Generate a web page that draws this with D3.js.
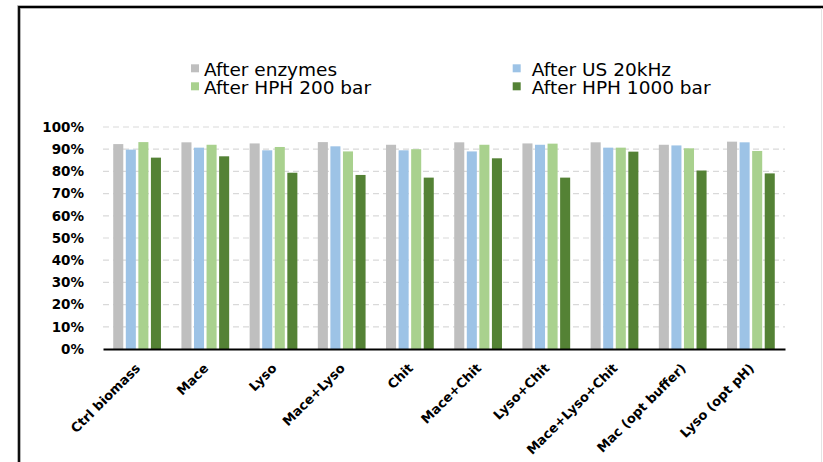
<!DOCTYPE html>
<html>
<head>
<meta charset="utf-8">
<script src="https://cdn.jsdelivr.net/npm/d3@7"></script>
<style>
  html, body { margin: 0; padding: 0; background: #ffffff; }
  svg { display: block; }
  text { font-family: "DejaVu Sans", sans-serif; }
</style>
</head>
<body>
<svg id="chart" width="823" height="462"></svg>
<script>
// Treatments along the x axis
const categories = [
  "Ctrl biomass", "Mace", "Lyso", "Mace+Lyso", "Chit",
  "Mace+Chit", "Lyso+Chit", "Mace+Lyso+Chit", "Mac (opt buffer)", "Lyso (opt pH)"
];

// Series names (legend order)
const seriesNames = ["After enzymes", "After US 20kHz", "After HPH 200 bar", "After HPH 1000 bar"];

// Values per series, one per treatment (fraction)
const afterEnzymes = [0.923, 0.931, 0.926, 0.932, 0.920, 0.931, 0.926, 0.931, 0.920, 0.934];
const afterUS20kHz = [0.898, 0.907, 0.895, 0.913, 0.895, 0.890, 0.920, 0.907, 0.917, 0.931];
const afterHPH200 = [0.932, 0.920, 0.910, 0.890, 0.900, 0.920, 0.925, 0.907, 0.904, 0.892];
const afterHPH1000 = [0.862, 0.868, 0.794, 0.784, 0.772, 0.859, 0.772, 0.889, 0.804, 0.791];

// Y tick values
const yTicks = [0, 0.1, 0.2, 0.3, 0.4, 0.5, 0.6, 0.7, 0.8, 0.9, 1.0];

const seriesValues = [afterEnzymes, afterUS20kHz, afterHPH200, afterHPH1000];
const colors = ["#bfbfbf", "#9dc3e6", "#a9d18e", "#548235"];

const svg = d3.select("#chart");

// Outer frame (left and top edges visible)
svg.append("path")
  .attr("d", "M19,462 L19,7 L823,7")
  .attr("fill", "none")
  .attr("stroke", "#9a9a9a")
  .attr("stroke-width", 3.5);
svg.append("path")
  .attr("d", "M19,462 L19,7 L823,7")
  .attr("fill", "none")
  .attr("stroke", "#000")
  .attr("stroke-width", 1.8);
svg.append("line")
  .attr("x1", 821.5).attr("x2", 821.5)
  .attr("y1", 8).attr("y2", 462)
  .attr("stroke", "#e4e4e4").attr("stroke-width", 1);

const plot = { left: 103, right: 785, top: 127, bottom: 349 };

const x = d3.scaleBand()
  .domain(categories)
  .range([plot.left, plot.right])
  .paddingInner(0.3)
  .paddingOuter(0.15);

const xSeries = d3.scaleBand()
  .domain(seriesNames)
  .range([0, x.bandwidth()])
  .paddingInner(0.2);

const y = d3.scaleLinear()
  .domain([0, 1])
  .range([plot.bottom, plot.top]);

// Dashed horizontal gridlines
svg.append("g")
  .selectAll("line")
  .data(yTicks.filter(d => d > 0))
  .join("line")
  .attr("x1", plot.left)
  .attr("x2", plot.right)
  .attr("y1", d => y(d))
  .attr("y2", d => y(d))
  .attr("stroke", "#d9d9d9")
  .attr("stroke-width", 1.2)
  .attr("stroke-dasharray", "6,4");

// Y axis labels
const yAxis = d3.axisLeft(y)
  .tickValues(yTicks)
  .tickFormat(d3.format(".0%"))
  .tickSize(0)
  .tickPadding(0);

const yG = svg.append("g")
  .attr("transform", `translate(84,0)`)
  .call(yAxis);
yG.select(".domain").remove();
yG.selectAll("text")
  .attr("font-family", "'DejaVu Sans', sans-serif")
  .attr("font-size", 13.5)
  .attr("font-weight", 700)
  .attr("fill", "#000");

// Bars
const groups = svg.append("g")
  .selectAll("g")
  .data(categories)
  .join("g")
  .attr("transform", d => `translate(${x(d)},0)`);

groups.selectAll("rect")
  .data((c, i) => seriesNames.map((s, k) => ({ s, v: seriesValues[k][i], k })))
  .join("rect")
  .attr("x", d => xSeries(d.s))
  .attr("width", xSeries.bandwidth())
  .attr("y", d => y(d.v))
  .attr("height", d => y(0) - y(d.v))
  .attr("fill", d => colors[d.k]);

// Baseline axis
const xAxis = d3.axisBottom(x).tickSize(0).tickPadding(0);
const xG = svg.append("g")
  .attr("transform", `translate(0,${plot.bottom})`)
  .call(xAxis);
xG.select(".domain")
  .attr("stroke", "#000")
  .attr("stroke-width", 2);
xG.selectAll("text")
  .attr("font-family", "'DejaVu Sans', sans-serif")
  .attr("font-size", 13)
  .attr("font-weight", 700)
  .attr("fill", "#000")
  .attr("text-anchor", "end")
  .attr("dy", 0)
  .attr("transform", "translate(4,20) rotate(-45)");

// Legend, two columns by two rows
const legendPos = [
  { x: 191, y: 64.3, tx: 13 }, { x: 512.7, y: 64.3, tx: 19 },
  { x: 191, y: 82.3, tx: 13 }, { x: 512.7, y: 82.3, tx: 19 }
];
const legend = svg.append("g")
  .selectAll("g")
  .data(seriesNames)
  .join("g")
  .attr("transform", (d, i) => `translate(${legendPos[i].x},${legendPos[i].y})`);
legend.append("rect")
  .attr("width", 8)
  .attr("height", 8)
  .attr("fill", (d, i) => colors[i]);
legend.append("text")
  .attr("x", (d, i) => legendPos[i].tx)
  .attr("y", 11.6)
  .attr("font-size", 18.5)
  .attr("fill", "#000")
  .text(d => d);
</script>
</body>
</html>
